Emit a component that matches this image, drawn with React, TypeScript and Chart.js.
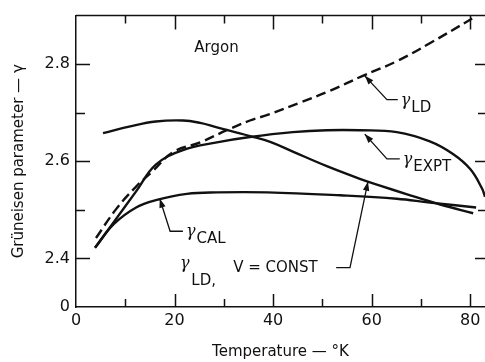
import React, { useEffect, useRef } from 'react';
import { Chart, registerables } from 'chart.js';

Chart.register(...registerables);

// ---- data ----
const xTickValues = [0, 10, 20, 30, 40, 50, 60, 70, 80];
const xTickLabels = ['0', '', '20', '', '40', '', '60', '', '80'];
const yTickValues = [2.3, 2.4, 2.5, 2.6, 2.7, 2.8];
const yTickLabels = ['0', '2.4', '', '2.6', '', '2.8'];

const ldT = [4.06, 8.1, 12.2, 15.6, 19.7, 25.2, 30.6, 35.3, 39.0, 45.5, 51.5, 58.2, 65.1, 71.8, 80.4];
const ldG = [2.442, 2.501, 2.548, 2.580, 2.619, 2.639, 2.664, 2.684, 2.696, 2.721, 2.745, 2.776, 2.806, 2.843, 2.894];

const exptT = [3.86, 8.1, 12.2, 16.2, 21.7, 28.6, 35.3, 44.0, 50.9, 57.6, 65.1, 71.8, 76.5, 80.0, 82.4, 83.0];
const exptG = [2.422, 2.481, 2.538, 2.593, 2.623, 2.639, 2.650, 2.660, 2.664, 2.664, 2.660, 2.641, 2.615, 2.584, 2.544, 2.527];

const calT = [3.86, 7.7, 12.2, 16.2, 22.5, 28.6, 38.8, 53.6, 65.1, 71.8, 81.2];
const calG = [2.422, 2.471, 2.505, 2.520, 2.533, 2.536, 2.536, 2.530, 2.523, 2.515, 2.505];

const ldvT = [5.48, 11.0, 16.2, 21.7, 25.2, 28.6, 35.3, 39.4, 44.0, 50.9, 57.6, 61.7, 67.2, 73.9, 80.6];
const ldvG = [2.658, 2.672, 2.682, 2.684, 2.679, 2.670, 2.652, 2.640, 2.620, 2.590, 2.564, 2.550, 2.532, 2.511, 2.493];

const FONT = '"DejaVu Sans", sans-serif';

function pts(t: number[], g: number[]) {
  return t.map((x, i) => ({ x, y: g[i] }));
}

// callout annotations: tip on curve, elbow, end of horizontal leader (data coords)
const callouts = [
  { sub: 'LD', tip: [58.6, 2.776], elbow: [63.1, 2.727], end: [65.3, 2.727] },
  { sub: 'EXPT', tip: [58.6, 2.656], elbow: [63.1, 2.605], end: [65.7, 2.605] },
  { sub: 'CAL', tip: [17.0, 2.523], elbow: [19.1, 2.456], end: [21.7, 2.456] },
];

const annotPlugin = {
  id: 'annot',
  afterDraw(chart: any) {
    const { ctx, chartArea, scales } = chart;
    const xs = scales.x;
    const ys = scales.y;
    const px = (v: number) => xs.getPixelForValue(v);
    const py = (v: number) => ys.getPixelForValue(v);
    ctx.save();
    ctx.strokeStyle = '#111';
    ctx.fillStyle = '#111';
    ctx.lineWidth = 1.5;
    // top border
    ctx.beginPath();
    ctx.moveTo(chartArea.left, chartArea.top);
    ctx.lineTo(chartArea.right, chartArea.top);
    ctx.stroke();
    // inside ticks
    xTickValues.forEach((v) => {
      if (v === 0) return;
      const major = v % 20 === 0;
      const x = Math.round(px(v)) + 0.5;
      ctx.beginPath();
      ctx.moveTo(x, chartArea.bottom);
      ctx.lineTo(x, chartArea.bottom - (major ? 13 : 8));
      ctx.moveTo(x, chartArea.top);
      ctx.lineTo(x, chartArea.top + (major ? 14 : 8));
      ctx.stroke();
    });
    yTickValues.forEach((v, i) => {
      if (i === 0) return;
      const major = yTickLabels[i] !== '';
      const y = Math.round(py(v)) + 0.5;
      ctx.beginPath();
      ctx.moveTo(chartArea.left, y);
      ctx.lineTo(chartArea.left + (major ? 14 : 9), y);
      ctx.moveTo(chartArea.right, y);
      ctx.lineTo(chartArea.right - (major ? 10 : 7), y);
      ctx.stroke();
    });

    const arrowHead = (x1: number, y1: number, x2: number, y2: number) => {
      const a = Math.atan2(y2 - y1, x2 - x1);
      const L = 9, W = 3.2;
      ctx.beginPath();
      ctx.moveTo(x2, y2);
      ctx.lineTo(x2 - L * Math.cos(a) + W * Math.sin(a), y2 - L * Math.sin(a) - W * Math.cos(a));
      ctx.lineTo(x2 - L * Math.cos(a) - W * Math.sin(a), y2 - L * Math.sin(a) + W * Math.cos(a));
      ctx.closePath();
      ctx.fill();
    };

    const GFONT = `italic 16px "DejaVu Serif", serif`;
    ctx.lineWidth = 1.3;
    callouts.forEach((c) => {
      const tx = px(c.tip[0]), ty = py(c.tip[1]);
      const ex = px(c.elbow[0]), ey = py(c.elbow[1]);
      const nx = px(c.end[0]), ny = py(c.end[1]);
      ctx.beginPath();
      ctx.moveTo(nx, ny);
      ctx.lineTo(ex, ey);
      ctx.lineTo(tx, ty);
      ctx.stroke();
      arrowHead(ex, ey, tx, ty);
      ctx.textAlign = 'left';
      ctx.textBaseline = 'alphabetic';
      ctx.font = GFONT;
      ctx.fillText('γ', nx + 3, ny + 5);
      const gw = ctx.measureText('γ').width;
      ctx.font = `15px ${FONT}`;
      ctx.fillText(c.sub, nx + 3 + gw + 1, ny + 12);
    });

    // gamma_LD, V = CONST
    ctx.font = GFONT;
    ctx.textBaseline = 'alphabetic';
    ctx.fillText('γ', px(21.1), py(2.381));
    ctx.font = `15px ${FONT}`;
    ctx.fillText('LD,', px(23.4), py(2.345));
    ctx.fillText('V = CONST', px(31.9), py(2.373));
    const sx = px(52.8), sy = py(2.381);
    const cx = px(55.6);
    const tx2 = px(59.25), ty2 = py(2.558);
    ctx.beginPath();
    ctx.moveTo(sx, sy);
    ctx.lineTo(cx, sy);
    ctx.lineTo(tx2, ty2);
    ctx.stroke();
    arrowHead(cx, sy, tx2, ty2);

    // Argon
    ctx.font = `15px ${FONT}`;
    ctx.fillText('Argon', px(24.0), py(2.826));
    ctx.restore();
  },
};

export default function App() {
  const ref = useRef<HTMLCanvasElement | null>(null);
  useEffect(() => {
    document.body.style.margin = '0';
    const canvas = ref.current!;
    const base = { borderColor: '#111', borderWidth: 2.4, pointRadius: 0, fill: false, tension: 0.4 };
    const chart = new Chart(canvas, {
      type: 'line',
      data: {
        datasets: [
          { ...base, label: 'γLD', data: pts(ldT, ldG), borderDash: [10, 5] },
          { ...base, label: 'γEXPT', data: pts(exptT, exptG) },
          { ...base, label: 'γCAL', data: pts(calT, calG) },
          { ...base, label: 'γLD, V = CONST', data: pts(ldvT, ldvG) },
        ],
      },
      options: {
        responsive: false,
        animation: false,
        layout: { padding: { top: 12, right: 0, left: 0, bottom: 0 } },
        plugins: { legend: { display: false }, tooltip: { enabled: false } },
        scales: {
          x: {
            type: 'linear',
            min: 0,
            max: 83,
            afterFit: (s: any) => { s.height = 55; },
            afterBuildTicks: (s: any) => { s.ticks = xTickValues.map((v) => ({ value: v })); },
            grid: { display: true, drawOnChartArea: false, drawTicks: false },
            border: { display: true, color: '#111', width: 1.5 },
            ticks: {
              autoSkip: false,
              maxRotation: 0,
              padding: 4,
              color: '#111',
              font: { family: FONT, size: 16 },
              callback: (v: any) => {
                const i = xTickValues.indexOf(Math.round(Number(v)));
                return i >= 0 ? xTickLabels[i] : '';
              },
            },
            title: {
              display: true,
              text: 'Temperature — °K',
              color: '#111',
              font: { family: FONT, size: 15 },
              padding: { top: 0, bottom: 1 },
            },
          },
          y: {
            type: 'linear',
            min: 2.3,
            max: 2.9,
            afterFit: (s: any) => { s.width = 76; },
            afterBuildTicks: (s: any) => { s.ticks = yTickValues.map((v) => ({ value: v })); },
            grid: { display: true, drawOnChartArea: false, drawTicks: false },
            border: { display: true, color: '#111', width: 1.5 },
            ticks: {
              autoSkip: false,
              padding: 6,
              color: '#111',
              font: { family: FONT, size: 16 },
              callback: (v: any) => {
                const i = yTickValues.findIndex((t) => Math.abs(t - Number(v)) < 1e-6);
                return i >= 0 ? yTickLabels[i] : '';
              },
            },
            title: {
              display: true,
              text: 'Grüneisen parameter — γ',
              color: '#111',
              font: { family: FONT, size: 15 },
              padding: { top: 10, bottom: 0 },
            },
          },
        },
      },
      plugins: [annotPlugin],
    });
    return () => chart.destroy();
  }, []);
  return (
    <div style={{ width: 485, height: 362, background: '#fff' }}>
      <canvas ref={ref} width={485} height={362} style={{ display: 'block' }} />
    </div>
  );
}
